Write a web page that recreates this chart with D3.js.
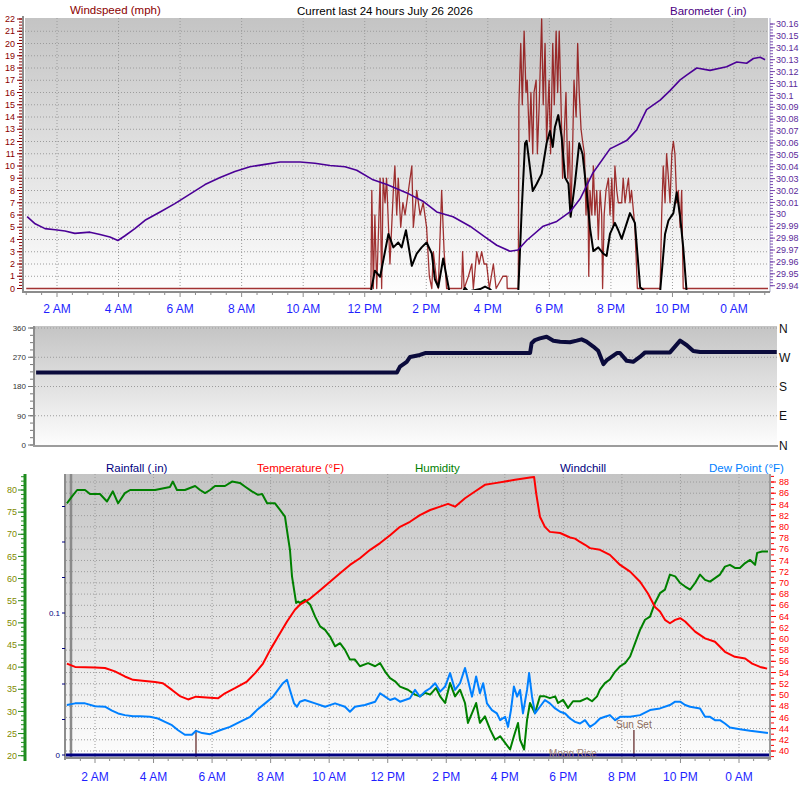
<!DOCTYPE html>
<html>
<head>
<meta charset="utf-8">
<script src="https://cdn.jsdelivr.net/npm/d3@7"></script>
<style>
  body { margin: 0; background: #fff; }
  svg { display: block; font-family: Arial, "Liberation Sans", sans-serif; }
</style>
</head>
<body>
<div id="draw_here"></div>
<script type="text/javascript">
    // time is hours since midnight of the first day (24 = midnight)
    hour_ticks = [2, 4, 6, 8, 10, 12, 14, 16, 18, 20, 22, 24]
    hour_labels = ["2 AM", "4 AM", "6 AM", "8 AM", "10 AM", "12 PM", "2 PM", "4 PM", "6 PM", "8 PM", "10 PM", "0 AM"]

    // Windspeed gust (mph)
    gust = [[1.0,0],[12.20,0],[12.23,8],[12.28,0],[12.33,6],[12.39,0],[12.50,9],[12.55,0],[12.60,9],[12.66,7],[12.71,9],[12.82,2],[12.93,8],[12.98,10],[13.04,6],[13.09,9],[13.17,5],[13.24,7],[13.31,6],[13.42,8],[13.53,10],[13.58,5],[13.69,8],[13.80,6],[13.90,7],[14.01,5],[14.10,1],[14.18,0],[14.23,3],[14.32,1],[14.39,0],[14.50,8],[14.58,3],[14.66,0],[15.15,0],[15.18,3],[15.23,0],[15.37,1],[15.48,2],[15.53,0],[15.64,3],[15.72,2],[15.80,3],[15.88,2],[15.96,2],[16.05,0],[16.18,2],[16.27,0],[16.49,1],[16.62,1],[16.63,0],[16.99,0],[17.01,15],[17.07,20],[17.12,15],[17.18,21],[17.24,16],[17.28,17],[17.35,12],[17.40,16],[17.46,11],[17.50,16],[17.57,17],[17.61,11],[17.67,15],[17.75,22],[17.80,15],[17.86,20],[17.91,12],[17.99,17],[18.04,11],[18.11,20],[18.16,15],[18.22,21],[18.27,16],[18.32,21],[18.38,15],[18.43,9],[18.49,13],[18.54,16],[18.60,9],[18.65,12],[18.70,6],[18.76,12],[18.80,17],[18.87,14],[18.92,20],[18.97,16],[19.03,13],[19.08,12],[19.14,11],[19.19,6],[19.25,9],[19.28,1],[19.32,8],[19.38,6],[19.43,10],[19.48,6],[19.54,8],[19.59,4],[19.65,8],[19.70,6],[19.73,0],[19.78,6],[19.84,8],[19.92,9],[19.97,6],[20.03,9],[20.08,5],[20.13,10],[20.19,8],[20.24,7],[20.35,7],[20.40,9],[20.46,7],[20.51,8],[20.57,9],[20.62,7],[20.67,8],[20.78,5],[20.86,0],[21.60,0],[21.65,6],[21.70,10],[21.76,7],[21.81,11],[21.87,9],[21.92,7],[21.98,11],[22.03,12],[22.08,11],[22.14,7],[22.19,8],[22.25,5],[22.30,8],[22.35,0],[25.2,0]]

    // Windspeed average (mph)
    wind_avg = [[1.0,0],[12.20,0],[12.33,1.7],[12.50,1.2],[12.60,2.5],[12.77,4.7],[12.93,3.6],[13.09,4.0],[13.20,3.6],[13.34,5.0],[13.53,2.1],[13.69,3.1],[13.85,3.6],[14.01,4.0],[14.18,3.1],[14.28,1.0],[14.39,0.35],[14.55,2.7],[14.66,1.2],[14.75,0],[15.19,0],[15.26,0.3],[15.36,0],[15.75,0.2],[15.91,0.4],[16.07,0.2],[16.14,0],[16.99,0],[17.10,6.6],[17.21,12.1],[17.26,12.3],[17.37,10.1],[17.46,8.2],[17.59,8.8],[17.75,9.6],[17.91,12.1],[18.02,13.1],[18.11,11.8],[18.18,13.4],[18.29,14.4],[18.40,12.6],[18.51,9.3],[18.62,8.8],[18.69,6.1],[18.83,8.8],[18.97,12.1],[19.08,11.2],[19.21,8.2],[19.32,5.2],[19.43,3.3],[19.59,3.6],[19.75,3.1],[19.86,2.9],[19.97,4.7],[20.13,5.6],[20.24,5.0],[20.35,4.3],[20.62,6.4],[20.78,5.6],[20.95,0.35],[21.11,0],[21.60,0],[21.76,4.7],[21.87,5.8],[22.03,6.4],[22.14,8.1],[22.25,6.1],[22.35,3.6],[22.46,0],[25.2,0]]

    // Barometer (in)
    baro = [[1.03,29.998],[1.29,29.992],[1.61,29.988],[1.94,29.987],[2.26,29.986],[2.58,29.984],[3.07,29.985],[3.40,29.983],[3.72,29.981],[3.98,29.978],[4.21,29.982],[4.53,29.988],[4.86,29.995],[5.35,30.002],[5.83,30.009],[6.32,30.017],[6.81,30.025],[7.30,30.031],[7.78,30.036],[8.27,30.040],[8.76,30.042],[9.25,30.044],[9.90,30.044],[10.38,30.043],[10.87,30.041],[11.36,30.040],[11.74,30.037],[12.27,30.029],[12.72,30.025],[13.37,30.018],[13.89,30.011],[14.34,30.002],[14.87,29.998],[15.42,29.990],[15.96,29.980],[16.29,29.974],[16.72,29.969],[16.98,29.970],[17.26,29.978],[17.80,29.990],[18.24,29.994],[18.67,30.002],[19.00,30.013],[19.42,30.035],[19.97,30.055],[20.51,30.062],[20.84,30.071],[21.16,30.088],[21.60,30.096],[21.92,30.104],[22.25,30.113],[22.46,30.117],[22.79,30.123],[23.22,30.121],[23.76,30.124],[24.09,30.128],[24.41,30.127],[24.63,30.131],[24.85,30.132],[25.01,30.130]]

    // Wind direction (degrees)
    wind_dir = [[0.96,223],[12.72,223],[12.82,241],[13.04,256],[13.15,271],[13.47,277],[13.64,283],[17.06,283],[17.11,313],[17.22,323],[17.38,328],[17.60,333],[17.82,321],[18.04,318],[18.36,316],[18.58,321],[18.74,325],[18.90,318],[19.12,303],[19.28,290],[19.45,249],[19.56,261],[19.89,283],[19.99,283],[20.21,259],[20.42,256],[20.64,271],[20.81,285],[21.62,285],[21.95,321],[22.17,307],[22.38,289],[22.60,286],[25.1,286]]
    dir_labels = ["N", "W", "S", "E", "N"]

    // Temperature (F)
    temperature = [[1.04,55.6],[1.32,55.0],[2.00,54.9],[2.34,54.8],[2.68,54.2],[3.02,53.3],[3.30,52.7],[3.71,52.5],[4.05,52.3],[4.32,52.1],[4.63,50.9],[4.90,49.8],[5.18,49.2],[5.45,49.7],[5.93,49.5],[6.20,49.4],[6.44,50.3],[6.78,51.2],[7.19,52.4],[7.47,53.9],[7.74,55.6],[7.98,58.0],[8.25,60.4],[8.56,63.1],[8.83,65.2],[9.00,66.1],[9.35,67.2],[9.69,68.7],[10.03,70.2],[10.37,71.7],[10.71,73.2],[11.05,74.4],[11.40,75.9],[11.74,77.1],[12.08,78.5],[12.42,80.0],[12.76,80.9],[13.10,82.1],[13.45,83.0],[13.79,83.6],[14.06,84.1],[14.30,83.6],[14.64,85.1],[14.98,86.3],[15.32,87.5],[15.67,87.8],[16.01,88.1],[16.35,88.4],[16.86,88.8],[17.00,88.9],[17.07,86.0],[17.20,81.8],[17.37,80.0],[17.54,79.1],[17.89,78.9],[18.06,78.5],[18.23,78.1],[18.40,77.9],[18.57,77.3],[18.74,76.8],[18.91,76.2],[19.25,75.9],[19.59,75.0],[19.94,73.2],[20.28,72.0],[20.62,70.2],[20.89,68.1],[21.13,65.7],[21.30,64.9],[21.47,63.4],[21.64,62.8],[21.82,63.4],[21.99,63.7],[22.16,63.1],[22.50,61.3],[22.84,60.1],[23.18,59.5],[23.52,57.7],[23.86,56.8],[24.21,56.5],[24.45,55.6],[24.72,55.0],[24.96,54.7]]

    // Humidity (%)
    humidity = [[1.04,77.0],[1.21,78.5],[1.39,80.0],[1.66,80.0],[1.83,79.1],[2.17,79.1],[2.41,77.4],[2.61,79.7],[2.79,77.0],[3.02,79.3],[3.20,80],[3.54,80],[4.05,80],[4.56,80.7],[4.66,81.9],[4.80,80],[5.07,80],[5.42,80.9],[5.59,80],[5.76,79.3],[5.93,80],[6.10,80.9],[6.44,80.9],[6.68,81.9],[6.95,81.6],[7.12,80.8],[7.36,79.7],[7.57,78.9],[7.71,79.1],[7.88,77.0],[8.15,77.0],[8.32,75.5],[8.49,74.0],[8.59,69.5],[8.66,66.5],[8.73,60.5],[8.80,57.5],[8.87,54.5],[8.94,54.8],[9.00,54.5],[9.17,55.2],[9.35,54.1],[9.52,51.4],[9.69,49.2],[9.86,48.4],[10.03,46.9],[10.20,44.7],[10.37,45.4],[10.54,43.9],[10.71,41.7],[10.88,41.7],[11.05,40.2],[11.33,40.9],[11.57,40.2],[11.74,40.9],[11.91,39.0],[12.08,37.5],[12.25,36.8],[12.42,35.6],[12.69,34.9],[12.93,33.8],[13.10,33.4],[13.27,34.2],[13.45,33.8],[13.65,35.3],[13.79,33.4],[13.96,31.9],[14.13,36.4],[14.30,33.4],[14.47,34.9],[14.64,31.9],[14.74,27.4],[14.88,29.6],[15.02,31.9],[15.15,27.4],[15.32,28.9],[15.50,25.9],[15.67,23.6],[15.84,24.4],[16.01,22.9],[16.18,21.4],[16.31,24.4],[16.45,27.4],[16.52,23.6],[16.66,21.4],[16.76,28.1],[16.86,31.9],[17.03,29.6],[17.20,33.4],[17.37,33.4],[17.54,33.0],[17.72,33.4],[17.82,31.9],[17.99,32.6],[18.16,30.8],[18.33,32.3],[18.57,32.3],[18.81,33.0],[18.98,32.3],[19.15,33.4],[19.25,34.9],[19.42,36.4],[19.59,37.2],[19.77,39.0],[19.94,40.2],[20.11,40.9],[20.28,42.4],[20.45,45.4],[20.62,48.4],[20.79,50.7],[20.96,51.4],[21.13,54.5],[21.30,56.7],[21.47,57.5],[21.64,60.9],[21.82,60.5],[21.99,59.0],[22.16,58.2],[22.33,57.5],[22.50,59.0],[22.67,60.9],[22.84,59.7],[23.01,59.3],[23.18,60.1],[23.35,60.9],[23.52,62.7],[23.69,63.1],[23.86,62.4],[24.03,62.4],[24.21,63.5],[24.38,64.2],[24.55,63.1],[24.62,65.8],[24.79,66.1],[24.99,66.1]]

    // Dew point (F)
    dew_point = [[1.04,48.2],[1.32,48.5],[1.66,48.5],[2.00,48.0],[2.34,47.9],[2.58,47.2],[2.79,46.7],[3.02,46.4],[3.30,46.2],[3.54,46.2],[3.88,46.1],[4.15,45.8],[4.39,45.2],[4.63,44.6],[4.84,43.7],[5.07,42.9],[5.31,42.9],[5.45,43.6],[5.66,43.2],[5.93,43.0],[6.27,43.7],[6.61,44.3],[6.95,45.2],[7.30,46.1],[7.53,47.3],[7.81,48.5],[8.08,49.7],[8.42,52.1],[8.56,52.7],[8.66,50.9],[8.80,48.5],[8.90,47.9],[9.00,48.8],[9.17,49.1],[9.52,48.5],[9.86,47.9],[10.20,48.5],[10.54,47.9],[10.71,47.0],[10.88,47.9],[11.22,48.2],[11.57,48.8],[11.74,50.3],[11.91,49.7],[12.08,49.1],[12.25,49.4],[12.42,48.8],[12.76,49.4],[12.93,50.9],[13.10,49.7],[13.27,50.6],[13.45,51.2],[13.62,52.1],[13.79,50.6],[13.96,51.5],[14.13,53.9],[14.30,50.9],[14.47,52.1],[14.64,54.8],[14.74,52.7],[14.88,49.7],[15.02,53.3],[15.15,50.3],[15.26,52.1],[15.39,48.5],[15.56,47.3],[15.73,46.7],[15.84,45.5],[16.01,46.1],[16.11,44.3],[16.21,47.3],[16.31,51.5],[16.42,49.7],[16.52,50.9],[16.62,46.7],[16.76,50.9],[16.83,53.9],[16.93,49.7],[17.03,46.7],[17.20,47.9],[17.37,49.1],[17.54,48.5],[17.72,47.6],[17.89,47.0],[18.06,46.7],[18.23,45.8],[18.40,45.2],[18.57,44.9],[18.74,45.5],[18.91,44.3],[19.08,44.9],[19.25,45.8],[19.42,46.1],[19.59,46.4],[19.77,45.5],[19.94,46.1],[20.28,46.1],[20.62,46.4],[20.96,47.3],[21.30,47.6],[21.64,48.2],[21.82,48.8],[21.99,48.8],[22.16,48.2],[22.33,47.9],[22.67,47.6],[22.84,46.1],[23.01,46.1],[23.18,45.5],[23.35,45.5],[23.52,44.9],[23.69,44.2],[24.03,43.9],[24.38,43.6],[24.72,43.4],[24.99,43.2]]

    // Rainfall (in)
    rainfall = [[0.9,0],[25.2,0]]

    sun_rise = 5.45
    sun_set = 20.41
    moon_rise = 18.33
    day_mark = 1.18

    // Colours
    c_wind = "#8b0000"
    c_baro = "#4b0096"
    c_dir = "#0b0b3c"
    c_temp = "#ff0000"
    c_hum = "#008000"
    c_dew = "#0080ff"
    c_rain = "#000080"
    c_time = "#1f1fff"
    c_grid = "#9c9c9c"

    var svg = d3.select("div#draw_here").append("svg")
        .attr("width", 800)
        .attr("height", 799)
    var defs = svg.append("defs")

    var grad = defs.append("linearGradient").attr("id", "bg")
        .attr("x1", 0).attr("y1", 0).attr("x2", 0).attr("y2", 1)
    grad.append("stop").attr("offset", "0%").attr("stop-color", "#c4c4c4")
    grad.append("stop").attr("offset", "100%").attr("stop-color", "#fdfdfd")

    function panel(id, box) {
        svg.append("rect")
            .attr("x", box.x0).attr("y", box.y0)
            .attr("width", box.x1 - box.x0).attr("height", box.y1 - box.y0)
            .attr("fill", "url(#bg)")
        defs.append("clipPath").attr("id", id).append("rect")
            .attr("x", box.x0).attr("y", box.y0)
            .attr("width", box.x1 - box.x0).attr("height", box.y1 - box.y0)
        return svg.append("g").attr("clip-path", `url(#${id})`)
    }

    function hgrid(g, box, ys) {
        g.selectAll(null).data(ys).join("line")
            .attr("x1", box.x0).attr("x2", box.x1)
            .attr("y1", d => d).attr("y2", d => d)
            .attr("stroke", c_grid).attr("stroke-width", 1)
            .attr("stroke-dasharray", "1,2")
    }

    function vgrid(g, box, xs) {
        g.selectAll(null).data(xs).join("line")
            .attr("x1", d => d).attr("x2", d => d)
            .attr("y1", box.y0).attr("y2", box.y1)
            .attr("stroke", c_grid).attr("stroke-width", 1)
            .attr("stroke-dasharray", "1,2")
    }

    function plotLine(g, data, x, y, color, width) {
        g.append("path")
            .attr("fill", "none")
            .attr("stroke", color)
            .attr("stroke-width", width)
            .attr("stroke-linejoin", "round")
            .attr("d", d3.line().x(d => x(d[0])).y(d => y(d[1]))(data))
    }

    function ticks(values, pos, x1, x2, color, width) {
        svg.append("g").selectAll("line").data(values).join("line")
            .attr("x1", x1).attr("x2", x2)
            .attr("y1", d => pos(d)).attr("y2", d => pos(d))
            .attr("stroke", color).attr("stroke-width", width || 1)
    }

    function timeTicks(x, box, y) {
        svg.append("line")
            .attr("x1", box.x0 - 2).attr("x2", box.x1 + 2)
            .attr("y1", y).attr("y2", y)
            .attr("stroke", "#8c8c8c").attr("stroke-width", 2)
        var halfs = d3.range(1, 25.5, 0.5).filter(t => x(t) > box.x0 && x(t) < box.x1)
        svg.append("g").selectAll("line").data(halfs).join("line")
            .attr("x1", d => x(d)).attr("x2", d => x(d))
            .attr("y1", y).attr("y2", d => y + (d % 2 == 0 ? 5 : 3))
            .attr("stroke", "#8c8c8c").attr("stroke-width", 1)
    }

    function timeLabels(x, y) {
        svg.append("g").selectAll("text").data(hour_ticks).join("text")
            .attr("x", d => x(d)).attr("y", y)
            .attr("text-anchor", "middle")
            .attr("font-size", 12)
            .attr("fill", c_time)
            .text((d, i) => hour_labels[i])
    }

    function label(x, y, txt, color, size, anchor) {
        svg.append("text")
            .attr("x", x).attr("y", y)
            .attr("font-size", size || 11)
            .attr("fill", color)
            .attr("text-anchor", anchor || "start")
            .text(txt)
    }

    // ---------------- Top panel: wind speed + barometer ----------------
    box_top = {x0: 25, x1: 768, y0: 18, y1: 290}
    x_top = d3.scaleLinear().domain([2, 24]).range([57, 734])
    y_wind = d3.scaleLinear().domain([0, 22]).range([288.5, 19])
    y_avg = d3.scaleLinear().domain([0, 22]).range([291.5, 22])
    y_baro = d3.scaleLinear().domain([29.94, 30.16]).range([285.7, 24])

    var g_top = panel("clip_top", box_top)
    hgrid(g_top, box_top, d3.range(1, 22).map(y_wind))
    vgrid(g_top, box_top, hour_ticks.map(x_top))
    plotLine(g_top, gust, x_top, y_wind, c_wind, 1.3)
    g_top.select("path").attr("stroke-opacity", 0.8)
    plotLine(g_top, wind_avg, x_top, y_avg, "#000", 2)
    plotLine(g_top, baro, x_top, y_baro, c_baro, 1.6)

    svg.append("line").attr("x1", 23).attr("x2", 23).attr("y1", 16).attr("y2", 293)
        .attr("stroke", "#8c8c8c").attr("stroke-width", 2)
    ticks(d3.range(0, 22.01, 0.25), y_wind, 19, 22, c_wind)
    ticks(d3.range(0, 23), y_wind, 17, 22, c_wind)
    svg.append("g").selectAll("text").data(d3.range(0, 23)).join("text")
        .attr("x", 15).attr("y", d => y_wind(d)).attr("dy", "0.35em")
        .attr("text-anchor", "end").attr("font-size", 9).attr("fill", c_wind)
        .text(d => d)

    svg.append("line").attr("x1", 770).attr("x2", 770).attr("y1", 18).attr("y2", 292)
        .attr("stroke", "#a8a8c8").attr("stroke-width", 1)
    ticks(d3.range(29.94, 30.1601, 0.0025), y_baro, 770, 773, "#7a4ab0")
    ticks(d3.range(29.94, 30.1601, 0.01), y_baro, 770, 775, "#7a4ab0")
    svg.append("g").selectAll("text").data(d3.range(0, 23).map(i => 29.94 + i * 0.01)).join("text")
        .attr("x", 776).attr("y", d => y_baro(d)).attr("dy", "0.35em")
        .attr("font-size", 9).attr("fill", "#5a2a9a")
        .text(d => +d.toFixed(2))

    timeTicks(x_top, box_top, 292)
    timeLabels(x_top, 313)

    label(70, 14, "Windspeed (mph)", c_wind, 11.5)
    label(297, 15, "Current last 24 hours July 26 2026", "#000", 11.5)
    label(670, 15, "Barometer (.in)", "#4b0082", 11.5)

    // ---------------- Middle panel: wind direction ----------------
    box_mid = {x0: 35, x1: 777, y0: 326, y1: 445}
    x_mid = d3.scaleLinear().domain([2, 24]).range([68, 743])
    y_dir = d3.scaleLinear().domain([0, 360]).range([445, 328])

    var g_mid = panel("clip_mid", box_mid)
    hgrid(g_mid, box_mid, [90, 180, 270, 360].map(y_dir))
    plotLine(g_mid, wind_dir, x_mid, y_dir, c_dir, 4)

    svg.append("line").attr("x1", 34).attr("x2", 34).attr("y1", 326).attr("y2", 447)
        .attr("stroke", "#8c8c8c").attr("stroke-width", 2)
    svg.append("line").attr("x1", 33).attr("x2", 778).attr("y1", 446).attr("y2", 446)
        .attr("stroke", "#9c9c9c").attr("stroke-width", 2)
    ticks(d3.range(0, 361, 22.5), y_dir, 30, 33, "#777")
    ticks(d3.range(0, 361, 90), y_dir, 28, 33, "#777")
    svg.append("g").selectAll("text").data(d3.range(0, 361, 90)).join("text")
        .attr("x", 26).attr("y", d => y_dir(d)).attr("dy", "0.35em")
        .attr("text-anchor", "end").attr("font-size", 8).attr("fill", "#333")
        .text(d => d)
    svg.append("g").selectAll("text").data(dir_labels).join("text")
        .attr("x", 779).attr("y", (d, i) => y_dir(360 - i * 90)).attr("dy", "0.38em")
        .attr("font-size", 12).attr("fill", "#111")
        .text(d => d)

    // ---------------- Bottom panel: temperature, humidity, dew point, rain ----------------
    box_bot = {x0: 66, x1: 769, y0: 474, y1: 757}
    x_bot = d3.scaleLinear().domain([2, 24]).range([95, 739])
    y_temp = d3.scaleLinear().domain([40, 88]).range([751, 482])
    y_hum = d3.scaleLinear().domain([20, 80]).range([755.7, 490])
    y_rain = d3.scaleLinear().domain([0, 0.1]).range([755, 613])

    var g_bot = panel("clip_bot", box_bot)
    hgrid(g_bot, box_bot, d3.range(40, 89, 2).map(y_temp))
    vgrid(g_bot, box_bot, hour_ticks.map(x_bot))

    g_bot.append("line")
        .attr("x1", x_bot(day_mark)).attr("x2", x_bot(day_mark))
        .attr("y1", box_bot.y0).attr("y2", box_bot.y1)
        .attr("stroke", "#8a8a8a").attr("stroke-width", 2.5)

    // sun rise / sun set markers
    g_bot.selectAll(null).data([sun_rise, sun_set]).join("line")
        .attr("x1", d => x_bot(d)).attr("x2", d => x_bot(d))
        .attr("y1", 730).attr("y2", 757)
        .attr("stroke", "#7a4a4a").attr("stroke-width", 1.5)

    plotLine(g_bot, rainfall, x_bot, y_rain, c_rain, 3)
    plotLine(g_bot, humidity, x_bot, y_hum, c_hum, 2)
    plotLine(g_bot, dew_point, x_bot, y_dew = y_temp, c_dew, 2)
    plotLine(g_bot, temperature, x_bot, y_temp, c_temp, 2)

    label(x_bot(sun_set), 728, "Sun Set", "#8a6a5a", 10, "middle")
    label(x_bot(moon_rise), 757, "Moon Rise", "#a08070", 10, "middle")

    // rainfall axis
    svg.append("line").attr("x1", 65).attr("x2", 65).attr("y1", 474).attr("y2", 760)
        .attr("stroke", "#8c8c8c").attr("stroke-width", 2)
    ticks(d3.range(0, 0.19, 0.025), y_rain, 62, 65, c_rain)
    svg.append("g").selectAll("text").data([0, 0.1]).join("text")
        .attr("x", 60).attr("y", d => y_rain(d)).attr("dy", "0.35em")
        .attr("text-anchor", "end").attr("font-size", 8).attr("fill", c_rain)
        .text(d => d)

    // humidity axis
    svg.append("line").attr("x1", 25).attr("x2", 25).attr("y1", 474).attr("y2", 761)
        .attr("stroke", "#1e8c1e").attr("stroke-width", 3)
    ticks(d3.range(20, 84), y_hum, 21, 24, "#1e8c1e")
    ticks(d3.range(20, 81, 5), y_hum, 18, 24, "#1e8c1e")
    svg.append("g").selectAll("text").data(d3.range(20, 81, 5)).join("text")
        .attr("x", 17).attr("y", d => y_hum(d)).attr("dy", "0.35em")
        .attr("text-anchor", "end").attr("font-size", 9).attr("fill", "#7f8a00")
        .text(d => d)

    // temperature axis
    svg.append("line").attr("x1", 770).attr("x2", 770).attr("y1", 474).attr("y2", 760)
        .attr("stroke", "#9c9c9c").attr("stroke-width", 2)
    ticks(d3.range(39, 90), y_temp, 771, 774, c_temp)
    ticks(d3.range(40, 89, 2), y_temp, 771, 776, c_temp)
    svg.append("g").selectAll("text").data(d3.range(40, 89, 2)).join("text")
        .attr("x", 779).attr("y", d => y_temp(d)).attr("dy", "0.35em")
        .attr("font-size", 9).attr("fill", c_temp)
        .text(d => d)

    timeTicks(x_bot, box_bot, 758)
    timeLabels(x_bot, 781)

    label(106, 472, "Rainfall (.in)", c_rain, 11.5)
    label(257, 472, "Temperature (°F)", c_temp, 11.5)
    label(415, 472, "Humidity", c_hum, 11.5)
    label(560, 472, "Windchill", c_rain, 11.5)
    label(709, 472, "Dew Point (°F)", c_dew, 11.5)
</script>
</body>
</html>
